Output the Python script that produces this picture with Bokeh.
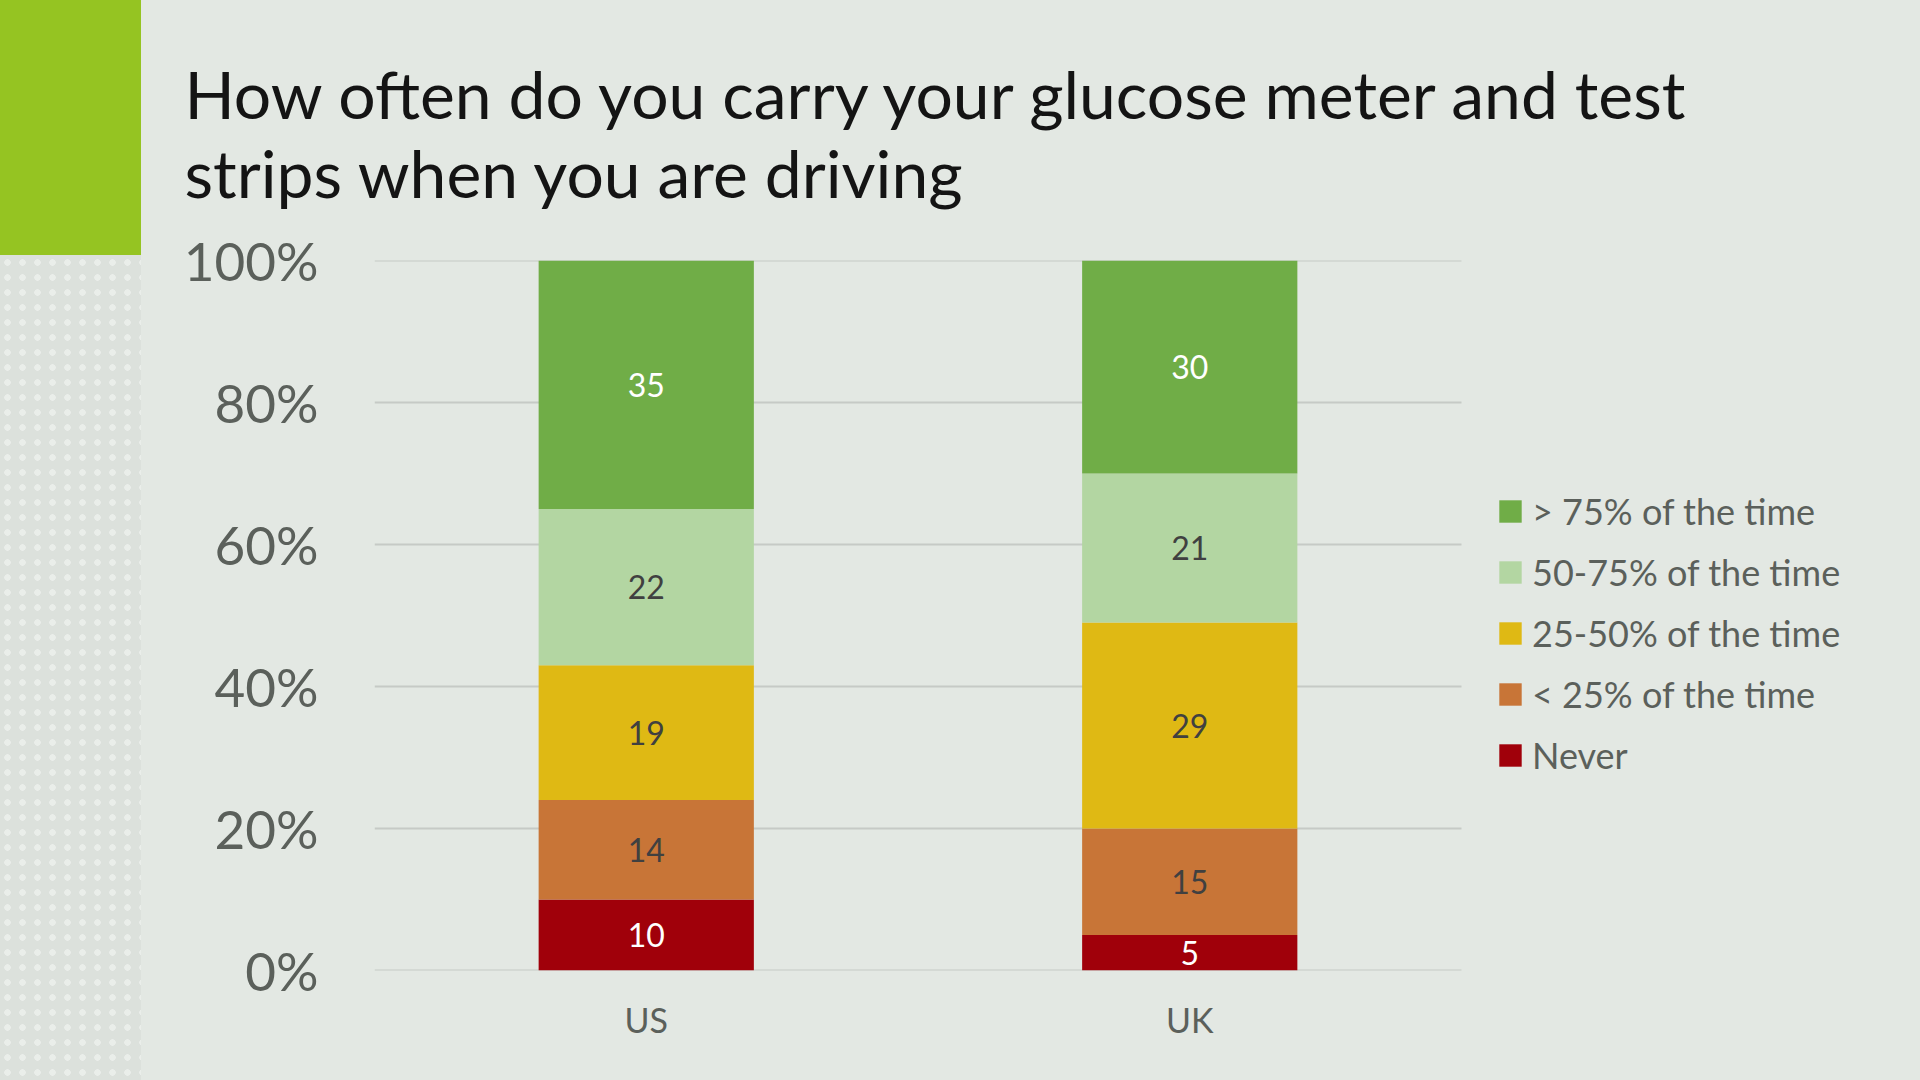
from bokeh.plotting import figure
from bokeh.layouts import row
from bokeh.models import (ColumnDataSource, FixedTicker, Legend, LegendItem, Title,
                          Range1d, Div)
from bokeh.core.properties import value
from bokeh.embed import file_html
from bokeh.resources import INLINE

# ---------------- data ----------------
countries = ["US", "UK"]
series_names = ["Never", "< 25% of the time", "25-50% of the time",
                "50-75% of the time", "> 75% of the time"]
never = [10, 5]
under_25 = [14, 15]
pct_25_50 = [19, 29]
pct_50_75 = [22, 21]
over_75 = [35, 30]
y_ticks = [0, 20, 40, 60, 80, 100]
y_tick_labels = ["0%", "20%", "40%", "60%", "80%", "100%"]
title_text = "How often do you carry your glucose meter and test\nstrips when you are driving"

series_values = [never, under_25, pct_25_50, pct_50_75, over_75]
series_colors = ["#A0000A", "#C87537", "#DFB914", "#B3D6A2", "#70AD47"]
label_colors = ["#FFFFFF", "#404040", "#404040", "#404040", "#FFFFFF"]

BG = "#E3E8E3"
FONT = "Lato"
TOTAL_W, TOTAL_H = 1920, 1080
STRIP_W = 141

# ---------------- decorative left strip ----------------
strip = Div(width=STRIP_W, height=TOTAL_H, margin=0, text=(
    '<div style="width:141px;height:255px;background:#95C422"></div>'
    '<div style="width:141px;height:825px;background-color:#DCE1DC;'
    'background-image:radial-gradient(circle, #EAEEEA 3px, transparent 3.5px);'
    'background-size:15px 15px"></div>'))

# ---------------- main chart ----------------
fig_w = TOTAL_W - STRIP_W
left_b, right_b, top_b, bottom_b = 233, 16, 260, 110
frame_w = fig_w - left_b - right_b
cat_px = 1087 / len(countries)              # pixel width of one category band
xs = list(range(len(countries)))
x_start = -0.5
x_end = x_start + frame_w / cat_px

p = figure(x_range=Range1d(x_start, x_end), y_range=Range1d(0, 100),
           width=fig_w, height=TOTAL_H, margin=0,
           output_backend="svg", toolbar_location=None,
           min_border_left=left_b, min_border_right=right_b,
           min_border_top=top_b, min_border_bottom=bottom_b,
           styles={"background-color": BG})
p.background_fill_color = BG
p.border_fill_color = BG
p.outline_line_color = None

# horizontal gridlines across the category area only
p.segment(x0=[x_start] * len(y_ticks), x1=[len(countries) - 0.5] * len(y_ticks),
          y0=y_ticks, y1=y_ticks, line_color="#C6CAC6", line_width=2)

totals = [sum(s[i] for s in series_values) for i in range(len(countries))]
bottoms = [0.0] * len(countries)
renderers = []
for vals, col, lcol in zip(series_values, series_colors, label_colors):
    pct = [v / t * 100 for v, t in zip(vals, totals)]
    tops = [b + q for b, q in zip(bottoms, pct)]
    mids = [(b + t) / 2 for b, t in zip(bottoms, tops)]
    src = ColumnDataSource(dict(x=xs, bottom=bottoms, top=tops, mid=mids,
                                label=[str(v) for v in vals],
                                lc=[lcol] * len(countries)))
    r = p.vbar(x="x", bottom="bottom", top="top", width=0.396, source=src,
               fill_color=col, line_color=None)
    p.text(x="x", y="mid", text="label", source=src, text_color="lc",
           text_align="center", text_baseline="middle",
           text_font=value(FONT), text_font_size="32px")
    renderers.append(r)
    bottoms = tops

p.yaxis.ticker = FixedTicker(ticks=y_ticks)
p.yaxis.major_label_overrides = {t: l for t, l in zip(y_ticks, y_tick_labels)}
p.yaxis.axis_line_color = None
p.yaxis.major_tick_line_color = None
p.yaxis.minor_tick_line_color = None
p.yaxis.major_label_standoff = 50
p.yaxis.major_label_text_font = FONT
p.yaxis.major_label_text_font_size = "53px"
p.yaxis.major_label_text_color = "#5B605B"

p.xaxis.ticker = FixedTicker(ticks=xs)
p.xaxis.major_label_overrides = {i: c for i, c in zip(xs, countries)}
p.xaxis.axis_line_color = None
p.xaxis.major_tick_line_color = None
p.xaxis.minor_tick_line_color = None
p.xaxis.major_label_standoff = 22
p.xaxis.major_label_text_font = FONT
p.xaxis.major_label_text_font_size = "34px"
p.xaxis.major_label_text_color = "#5B605B"

p.xgrid.grid_line_color = None
p.ygrid.grid_line_color = None

p.title = Title(text=title_text, text_font=FONT, text_font_size="66px",
                text_font_style="normal", text_color="#141414",
                align="left", offset=-190, standoff=98)

items = [LegendItem(label=n, renderers=[r])
         for n, r in zip(reversed(series_names), reversed(renderers))]
legend = Legend(items=items, location=(1122, 193), margin=0, padding=0,
                border_line_color=None, background_fill_alpha=0,
                glyph_width=28, glyph_height=28, label_height=22,
                label_standoff=8, spacing=17,
                label_text_font=FONT, label_text_font_size="36px",
                label_text_color="#5B605B")
p.add_layout(legend)

layout = row(strip, p, spacing=0, margin=0)
open("out.html", "w").write(file_html(layout, INLINE))
